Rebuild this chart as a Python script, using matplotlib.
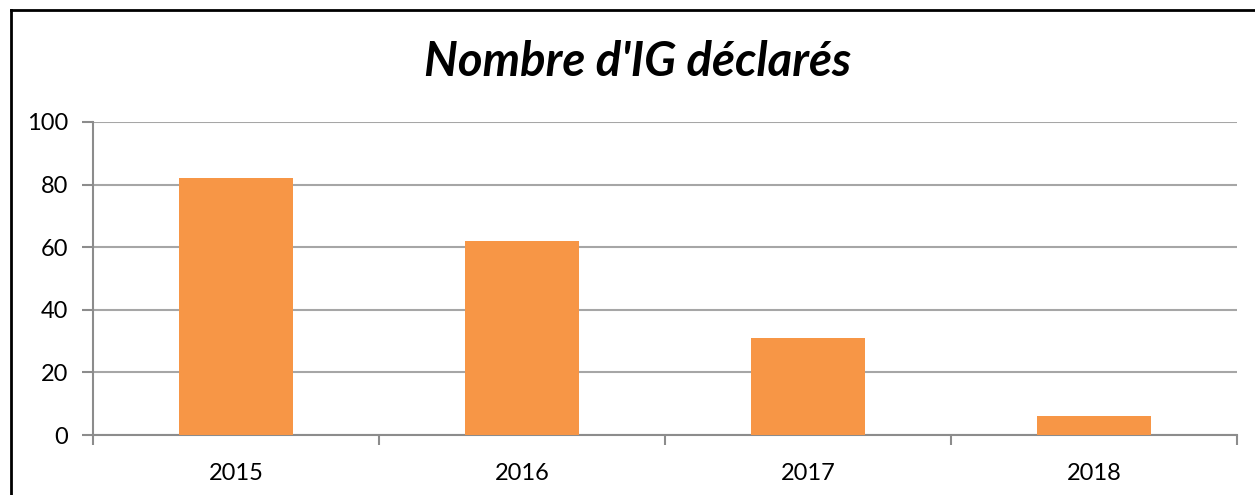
import matplotlib.pyplot as plt
from matplotlib.lines import Line2D

# données
annees = ['2015', '2016', '2017', '2018']
nb_ig = [82, 62, 31, 6]
graduations = [0, 20, 40, 60, 80, 100]

W, H = 1255, 495
fig = plt.figure(figsize=(W / 100, H / 100), dpi=100)
ax = fig.add_axes([93 / W, 1 - 435 / H, (1237 - 93) / W, (435 - 122) / H])

x = list(range(len(annees)))
ax.bar(x, nb_ig, width=0.4, color='#F79646', zorder=3)

ax.set_xlim(-0.5, len(annees) - 0.5)
ax.set_ylim(0, 100)
ax.set_yticks(graduations)
ax.set_yticklabels([str(g) for g in graduations], fontsize=17, family='Lato')
ax.yaxis.grid(True, color='#A6A6A6', linewidth=1.5, zorder=0)

# axe x : graduations entre les catégories, étiquettes au centre
ax.set_xticks([i - 0.5 for i in range(len(annees) + 1)])
ax.set_xticklabels([])
ax.set_xticks(x, minor=True)
ax.set_xticklabels(annees, minor=True, fontsize=17, family='Lato')
ax.tick_params(axis='x', which='minor', length=0, pad=20)
ax.tick_params(axis='x', which='major', length=7, width=1.5, color='#8C8C8C')
ax.tick_params(axis='y', length=8, width=1.5, color='#8C8C8C', pad=10)

for s in ['top', 'right']:
    ax.spines[s].set_visible(False)
for s in ['left', 'bottom']:
    ax.spines[s].set_color('#8C8C8C')
    ax.spines[s].set_linewidth(1.5)

fig.text(638 / W, 1 - 62 / H, "Nombre d'IG déclarés", ha='center', va='center',
         fontsize=34, fontweight='bold', fontstyle='italic', family='Lato')

# cadre du graphique (partiellement visible)
fig.add_artist(Line2D([11 / W, 11 / W], [0, 1 - 10 / H], color='black', linewidth=2))
fig.add_artist(Line2D([11 / W, 1], [1 - 10 / H, 1 - 10 / H], color='black', linewidth=2))

fig.savefig('out.png', dpi=100)
